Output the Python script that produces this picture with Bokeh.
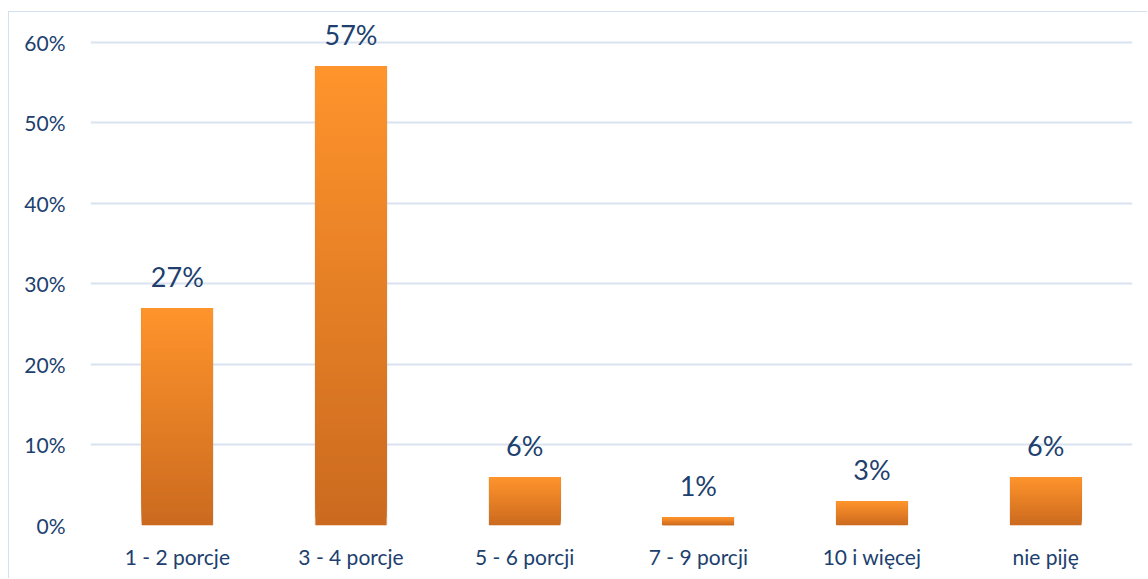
from bokeh.plotting import figure
from bokeh.models import ColumnDataSource, NumeralTickFormatter, FixedTicker
from bokeh.core.properties import value
from bokeh.embed import file_html
from bokeh.resources import INLINE

categories = ["1 - 2 porcje", "3 - 4 porcje", "5 - 6 porcji", "7 - 9 porcji", "10 i więcej", "nie piję"]
shares = [0.27, 0.57, 0.06, 0.01, 0.03, 0.06]
y_ticks = [0.0, 0.1, 0.2, 0.3, 0.4, 0.5, 0.6]

FONT = "Lato"
TEXT = "#203F6E"
GRID = "#D9E3F1"
TOP_RGB = (255, 148, 44)
BOT_RGB = (203, 106, 31)
BAR_W = 0.41
STEPS = 60

# headroom above the 60% line so the tallest label is not clipped
p = figure(
    x_range=categories, y_range=(0, 0.637),
    width=1139, height=567,
    output_backend="svg", toolbar_location=None,
    min_border_left=81, min_border_right=16, min_border_top=0, min_border_bottom=54,
    styles={"margin-left": "8px", "margin-top": "11px",
            "border-left": "1px solid #D3E0F0", "border-top": "1px solid #D3E0F0"},
)
p.outline_line_color = None
p.background_fill_color = "white"
p.border_fill_color = "white"

# soft drop shadow behind each bar
shadow = ColumnDataSource(dict(x=categories, top=shares))
p.vbar(x="x", top="top", width=BAR_W + 0.012, bottom=-0.0035, source=shadow,
       fill_color="#000000", fill_alpha=0.07, line_color=None)

# vertical gradient: overlapping slices, each from its own start up to the bar top
xs, bottoms, tops, colors = [], [], [], []
for i in range(STEPS):
    f0 = i / STEPS
    t = (i + 0.5) / STEPS
    rgb = tuple(round(b + (a - b) * t) for a, b in zip(TOP_RGB, BOT_RGB))
    for cat, v in zip(categories, shares):
        xs.append(cat)
        bottoms.append(v * f0)
        tops.append(v)
        colors.append("#%02x%02x%02x" % rgb)
slices = ColumnDataSource(dict(x=xs, bottom=bottoms, top=tops, color=colors))
p.vbar(x="x", bottom="bottom", top="top", width=BAR_W, source=slices,
       fill_color="color", line_color=None)

# value labels above bars
labels = ColumnDataSource(dict(x=categories, y=shares, txt=[f"{round(v * 100)}%" for v in shares]))
p.text(x="x", y="y", text="txt", source=labels, text_align="center", text_baseline="bottom",
       y_offset=-15, text_font=value(FONT), text_font_size="27px", text_color=TEXT)

p.yaxis.ticker = FixedTicker(ticks=y_ticks)
p.yaxis.formatter = NumeralTickFormatter(format="0%")
for ax in (p.xaxis, p.yaxis):
    ax.axis_line_color = None
    ax.major_tick_line_color = None
    ax.minor_tick_line_color = None
    ax.major_label_text_font = FONT
    ax.major_label_text_font_size = "21px"
    ax.major_label_text_color = TEXT
p.yaxis.major_label_standoff = 19
p.xaxis.major_label_standoff = 12

p.xgrid.grid_line_color = None
p.ygrid.ticker = FixedTicker(ticks=y_ticks)
p.ygrid.grid_line_color = GRID
p.ygrid.grid_line_width = 2

open("out.html", "w").write(file_html(p, INLINE))
